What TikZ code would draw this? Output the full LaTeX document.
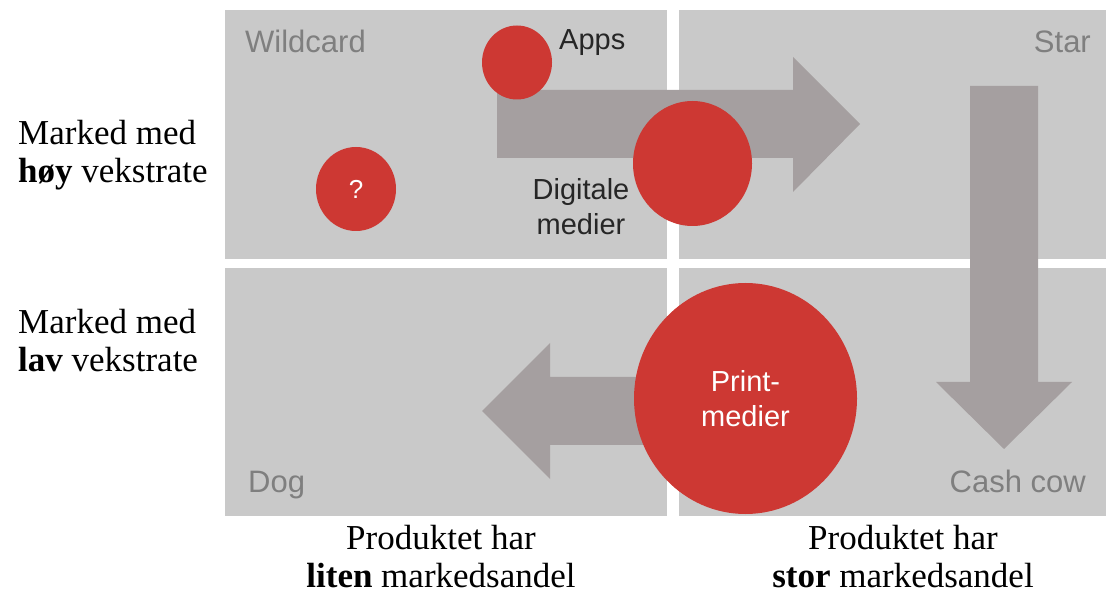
\documentclass[tikz,border=0pt]{standalone}
\usepackage{fontspec}
\setmainfont{Liberation Serif}
\setsansfont{Liberation Sans}
\usetikzlibrary{shapes.geometric}

\definecolor{quadgray}{RGB}{201,201,201}
\definecolor{arrowgray}{RGB}{165,159,160}
\definecolor{bubblered}{RGB}{205,56,51}
\definecolor{catgray}{RGB}{127,127,127}
\definecolor{itemdark}{RGB}{38,38,38}

\begin{document}
\begin{tikzpicture}[
        x=1pt, y=-1pt,
        quad/.style={fill=quadgray, draw=none, rectangle, inner sep=0pt},
        bigarrow/.style={fill=arrowgray, draw=none},
        bubble/.style={fill=bubblered, draw=none, ellipse, inner sep=0pt, text=white, align=center,
            font=\sffamily\fontsize{29}{35}\selectfont},
        category/.style={inner sep=0pt, text=catgray, font=\sffamily\fontsize{31}{36}\selectfont},
        item/.style={inner sep=0pt, text=itemdark, align=center, font=\sffamily\fontsize{29}{35}\selectfont},
        axislabel/.style={inner sep=0pt, align=center, font=\fontsize{35}{38}\selectfont}
    ]
        \useasboundingbox (0,0) rectangle (1106,593);

        % Quadrants
        \node[quad, minimum width=442, minimum height=249] (wild) at (446,134.5) {};
        \node[quad, minimum width=427, minimum height=249] (star) at (892.5,134.5) {};
        \node[quad, minimum width=442, minimum height=248] (dog) at (446,392) {};
        \node[quad, minimum width=427, minimum height=248] (cow) at (892.5,392) {};

        % Arrows
        \fill[bigarrow] (497,90) -- (793,90) -- (793,57) -- (860,124) -- (793,192) -- (793,158) -- (497,158) -- cycle;
        \fill[bigarrow] (970,86) -- (1038,86) -- (1038,382) -- (1072,382) -- (1004,449) -- (936,382) -- (970,382) -- cycle;
        \fill[bigarrow] (660,377) -- (550,377) -- (550,343) -- (482,411) -- (550,479) -- (550,445) -- (660,445) -- cycle;

        % Bubbles
        \node[bubble, minimum width=80, minimum height=84, font=\sffamily\fontsize{26}{30}\selectfont] (unknown) at (356,189) {?};
        \node[bubble, minimum width=70, minimum height=74] (apps) at (517,62.5) {};
        \node[bubble, minimum width=119, minimum height=125] (digital) at (692.5,163.5) {};
        \node[bubble, minimum width=223, minimum height=231] (print) at (745.5,398.5) {Print-\\medier};

        % Labels
        \node[category, anchor=base west] (wildlabel) at (245,53) {Wildcard};
        \node[category, anchor=base east] (starlabel) at (1091,53) {Star};
        \node[category, anchor=base west] (doglabel) at (248,493) {Dog};
        \node[category, anchor=base east] (cowlabel) at (1086,493) {Cash cow};
        \node[item, anchor=base west] (appslabel) at (559,50) {Apps};
        \node[item] (digitallabel) at (581,207) {Digitale\\medier};

        % Axes
        \node[axislabel, align=left, anchor=west] (high) at (18,155) {Marked med\\\textbf{høy} vekstrate};
        \node[axislabel, align=left, anchor=west] (low) at (18,341) {Marked med\\\textbf{lav} vekstrate};
        \node[axislabel] (small) at (441,557) {Produktet har\\\textbf{liten} markedsandel};
        \node[axislabel] (large) at (903,557) {Produktet har\\\textbf{stor} markedsandel};
    \end{tikzpicture}
\end{document}
